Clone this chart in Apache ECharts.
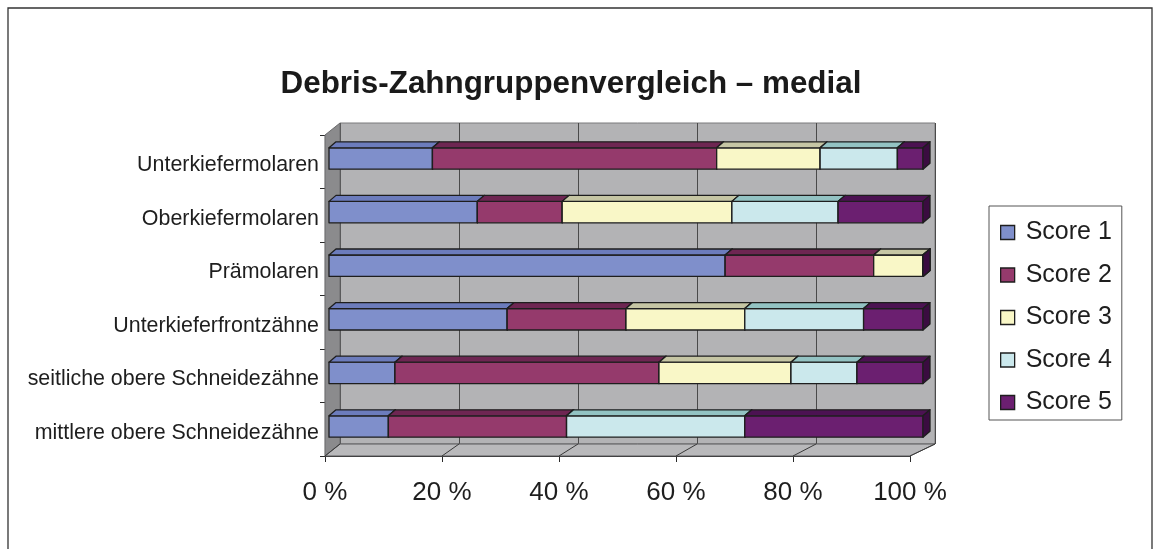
<!DOCTYPE html>
<html>
<head>
<meta charset="utf-8">
<script src="https://cdn.jsdelivr.net/npm/echarts@6/dist/echarts.min.js"></script>
<style>html,body{margin:0;padding:0;background:#fff}#c{width:1160px;height:549px}</style>
</head>
<body>
<div id="c"></div>
<script>
const categories = ['Unterkiefermolaren','Oberkiefermolaren','Prämolaren','Unterkieferfrontzähne','seitliche obere Schneidezähne','mittlere obere Schneidezähne'];
const seriesNames = ['Score 1','Score 2','Score 3','Score 4','Score 5'];
const score1 = [17.4, 25.0, 66.7, 30.0, 11.1, 10.0];
const score2 = [47.8, 14.3, 25.0, 20.0, 44.4, 30.0];
const score3 = [17.4, 28.6, 8.3, 20.0, 22.2, 0.0];
const score4 = [13.0, 17.9, 0.0, 20.0, 11.1, 30.0];
const score5 = [4.3, 14.3, 0.0, 10.0, 11.1, 30.0];
const xTicks = [0, 20, 40, 60, 80, 100];

const values = [score1, score2, score3, score4, score5];
const frontColors = ['#7f8fcb', '#953a6c', '#f9f7c7', '#cbe8ec', '#6b1f70'];
const topColors = ['#6c7cbc', '#6e2652', '#c6c6a4', '#93c3c3', '#4c1252'];
const sideColors = ['#4a5590', '#5a1c42', '#9a9a78', '#6e9c9c', '#3a0c40'];
const FONT = '"Liberation Sans", Arial, sans-serif';

const total = categories.map((_, i) => values.reduce((a, v) => a + v[i], 0));
const DX = 7, DY = -6;

function makeSeries(k) {
  const data = categories.map((_, i) => {
    let start = 0;
    for (let j = 0; j < k; j++) start += values[j][i];
    const end = start + values[k][i];
    return [start / total[i] * 100, end / total[i] * 100, i];
  });
  return {
    type: 'custom',
    name: seriesNames[k],
    xAxisIndex: 1, yAxisIndex: 1,
    itemStyle: { color: frontColors[k] },
    encode: { x: [0, 1], y: 2 },
    z: 5 + k,
    data: data,
    renderItem: function (params, api) {
      const s = api.value(0), e = api.value(1), c = api.value(2);
      const p0 = api.coord([s, c]);
      const p1 = api.coord([e, c]);
      const h = api.size([0, 1])[1] * 0.4;
      const x0 = p0[0], x1 = p1[0], yt = p0[1] - h / 2, yb = p0[1] + h / 2;
      const st = { stroke: '#1e1e1e', lineWidth: 1.3, lineJoin: 'round' };
      return {
        type: 'group',
        children: [
          { type: 'rect', shape: { x: x0, y: yt, width: x1 - x0, height: h }, style: Object.assign({ fill: frontColors[k] }, st) },
          { type: 'polygon', shape: { points: [[x0, yt], [x0 + DX, yt + DY], [x1 + DX, yt + DY], [x1, yt]] }, style: Object.assign({ fill: topColors[k] }, st) },
          { type: 'polygon', shape: { points: [[x1, yt], [x1 + DX, yt + DY], [x1 + DX, yb + DY], [x1, yb]] }, style: Object.assign({ fill: sideColors[k] }, st) }
        ]
      };
    }
  };
}

const chart = echarts.init(document.getElementById('c'), null, { renderer: 'canvas' });

const option = {
  backgroundColor: '#ffffff',
  animation: false,
  textStyle: { fontFamily: FONT },
  title: {
    text: 'Debris-Zahngruppenvergleich – medial',
    left: 566, top: 64, textAlign: 'center',
    textStyle: { fontFamily: FONT, fontSize: 31.4, fontWeight: 'bold', color: '#1a1a1a' }
  },
  legend: {
    orient: 'vertical',
    left: 989, top: 206,
    padding: [14, 10, 5, 11],
    itemWidth: 14, itemHeight: 14, itemGap: 17.5,
    borderColor: '#555', borderWidth: 1,
    backgroundColor: '#fff',
    icon: 'rect',
    itemStyle: { borderColor: '#1e1e1e', borderWidth: 1.3 },
    textStyle: { fontFamily: FONT, fontSize: 25, color: '#1e1e1e', padding: [0, 0, 0, 6] },
    data: seriesNames
  },
  grid: [
    { left: 340, top: 123, width: 595, height: 321, show: true, backgroundColor: '#b3b3b5', borderColor: '#7a7a7c', borderWidth: 1 },
    { left: 329, top: 131.7, width: 594, height: 321.6 },
    { left: 325, top: 135, width: 585, height: 321 },
    { left: 325, top: 138.5, width: 585, height: 321 }
  ],
  xAxis: [
    { gridIndex: 0, type: 'value', min: 0, max: 100, interval: 20,
      axisLine: { show: false }, axisTick: { show: false }, axisLabel: { show: false },
      splitLine: { show: true, lineStyle: { color: '#4a4a4a', width: 1 } } },
    { gridIndex: 1, type: 'value', min: 0, max: 100, show: false },
    { gridIndex: 2, type: 'value', min: 0, max: 100, interval: 20,
      axisLine: { show: true, lineStyle: { color: '#2a2a2a', width: 1.2 } },
      axisTick: { show: true, length: 6, lineStyle: { color: '#2a2a2a' } },
      splitLine: { show: false },
      axisLabel: { formatter: '{value} %', fontSize: 26, color: '#1e1e1e', margin: 24, fontFamily: FONT } },
    { gridIndex: 3, type: 'value', min: 0, max: 100, show: false }
  ],
  yAxis: [
    { gridIndex: 0, type: 'value', min: 0, max: 1, show: false },
    { gridIndex: 1, type: 'category', inverse: true, data: categories, show: false },
    { gridIndex: 2, type: 'category', inverse: true, data: categories,
      axisLine: { show: true, lineStyle: { color: '#2a2a2a', width: 1.2 } },
      axisTick: { show: true, length: 5, lineStyle: { color: '#2a2a2a' } },
      axisLabel: { show: false } },
    { gridIndex: 3, type: 'category', inverse: true, data: categories,
      axisLine: { show: false }, axisTick: { show: false },
      axisLabel: { fontSize: 21.4, color: '#1e1e1e', margin: 6, fontFamily: FONT } }
  ],
  series: values.map((_, k) => makeSeries(k))
};
chart.setOption(option);

// decorative 3D walls (left wall, floor) computed from the axes
function px(g, v, y) { return chart.convertToPixel({ gridIndex: g }, [v, y]); }
const backBL = px(0, 0, 0), backTL = px(0, 0, 1), backBR = px(0, 100, 0);
const fX = v => chart.convertToPixel({ xAxisIndex: 2 }, v);
const frontTop = 135, frontBottom = 456;
const graphics = [];
graphics.push({ type: 'rect', shape: { x: 8, y: 8, width: 1144, height: 600 }, style: { fill: null, stroke: '#333', lineWidth: 1.3 }, z: 0, silent: true });
graphics.push({ type: 'polygon', z: 1, silent: true,
  shape: { points: [[fX(0), frontTop], [backTL[0], backTL[1]], [backBL[0], backBL[1]], [fX(0), frontBottom]] },
  style: { fill: '#8b8b8d', stroke: '#6a6a6c', lineWidth: 1 } });
graphics.push({ type: 'polygon', z: 1, silent: true,
  shape: { points: [[fX(0), frontBottom], [backBL[0], backBL[1]], [backBR[0], backBR[1]], [fX(100), frontBottom]] },
  style: { fill: '#b9b9bb', stroke: '#5a5a5c', lineWidth: 1 } });
xTicks.forEach(v => {
  const b = px(0, v, 0);
  graphics.push({ type: 'line', z: 1, silent: true,
    shape: { x1: fX(v), y1: frontBottom, x2: b[0], y2: b[1] },
    style: { stroke: '#3a3a3a', lineWidth: 1 } });
});
chart.setOption({ graphic: graphics });
</script>
</body>
</html>
